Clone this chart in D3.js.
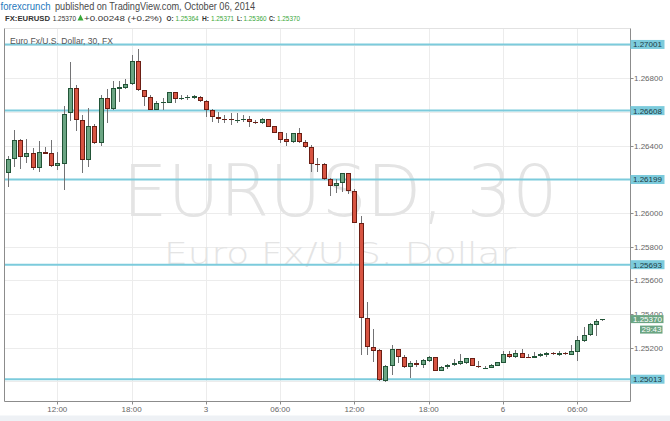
<!DOCTYPE html>
<html><head><meta charset="utf-8">
<script src="https://cdn.jsdelivr.net/npm/d3@7"></script>
<style>body{margin:0;background:#fff;} svg{display:block;font-family:"Liberation Sans",Arial,sans-serif;}</style>
</head><body>
<svg id="c" width="670" height="421"></svg>
<script>
// ---- data (EUR/USD, 30-minute candles) ----
const opens=[1.26236,1.26319,1.26432,1.26334,1.26355,1.26267,1.26362,1.26355,1.26281,1.26293,
1.26592,1.26744,1.26550,1.26313,1.26515,1.26414,1.26681,1.26615,1.26738,1.26744,
1.26764,1.26903,1.26729,1.26687,1.26612,1.26651,1.26655,1.26717,1.26677,1.26685,
1.26683,1.26691,1.26663,1.26612,1.26572,1.26556,1.26556,1.26552,1.26552,1.26556,
1.26540,1.26533,1.26558,1.26517,1.26479,1.26438,1.26422,1.26473,1.26420,1.26394,
1.26289,1.26289,1.26200,1.26160,1.26176,1.26236,1.26128,1.25942,1.25375,1.25207,
1.25185,1.25005,1.25093,1.25191,1.25143,1.25084,1.25111,1.25097,1.25123,1.25142,
1.25064,1.25084,1.25096,1.25106,1.25108,1.25137,1.25094,1.25081,1.25081,1.25093,
1.25109,1.25161,1.25143,1.25171,1.25143,1.25139,1.25149,1.25155,1.25171,1.25159,
1.25171,1.25159,1.25175,1.25242,1.25274,1.25337,1.25364];
const highs=[1.26339,1.26493,1.26438,1.26438,1.26384,1.26428,1.26394,1.26434,1.26364,1.26635,
1.26898,1.26760,1.26580,1.26622,1.26529,1.26701,1.26735,1.26784,1.26781,1.26796,
1.26938,1.26974,1.26730,1.26701,1.26667,1.26681,1.26720,1.26720,1.26701,1.26701,
1.26701,1.26695,1.26671,1.26616,1.26600,1.26580,1.26592,1.26592,1.26584,1.26576,
1.26552,1.26562,1.26560,1.26518,1.26483,1.26473,1.26477,1.26507,1.26434,1.26404,
1.26325,1.26295,1.26206,1.26202,1.26239,1.26239,1.26140,1.25984,1.25472,1.25311,
1.25191,1.25097,1.25216,1.25193,1.25157,1.25123,1.25127,1.25133,1.25153,1.25145,
1.25092,1.25103,1.25131,1.25161,1.25141,1.25139,1.25121,1.25093,1.25102,1.25117,
1.25181,1.25181,1.25187,1.25191,1.25163,1.25176,1.25167,1.25175,1.25175,1.25179,
1.25176,1.25216,1.25270,1.25325,1.25349,1.25369,1.25371];
const lows=[1.26156,1.26271,1.26260,1.26295,1.26255,1.26245,1.26350,1.26275,1.26255,1.26137,
1.26548,1.26489,1.26236,1.26275,1.26408,1.26398,1.26533,1.26612,1.26661,1.26735,
1.26760,1.26724,1.26637,1.26612,1.26612,1.26612,1.26651,1.26651,1.26671,1.26671,
1.26677,1.26661,1.26568,1.26542,1.26533,1.26536,1.26523,1.26533,1.26542,1.26512,
1.26529,1.26529,1.26511,1.26473,1.26414,1.26400,1.26417,1.26414,1.26384,1.26245,
1.26245,1.26196,1.26101,1.26121,1.26127,1.26111,1.25939,1.25157,1.25157,1.25117,
1.25004,1.24997,1.25038,1.25108,1.25082,1.25023,1.25084,1.25080,1.25117,1.25062,
1.25061,1.25074,1.25093,1.25097,1.25103,1.25092,1.25081,1.25078,1.25078,1.25092,
1.25107,1.25137,1.25137,1.25137,1.25137,1.25137,1.25143,1.25143,1.25157,1.25151,
1.25157,1.25157,1.25123,1.25236,1.25271,1.25271,1.25360];
const closes=[1.26321,1.26432,1.26334,1.26355,1.26267,1.26360,1.26352,1.26281,1.26295,1.26590,
1.26744,1.26550,1.26313,1.26515,1.26414,1.26681,1.26616,1.26741,1.26748,1.26766,
1.26903,1.26730,1.26687,1.26612,1.26653,1.26659,1.26717,1.26679,1.26681,1.26686,
1.26693,1.26663,1.26612,1.26572,1.26556,1.26555,1.26552,1.26552,1.26558,1.26539,
1.26533,1.26558,1.26512,1.26477,1.26434,1.26423,1.26473,1.26420,1.26394,1.26289,
1.26288,1.26200,1.26160,1.26176,1.26236,1.26131,1.25942,1.25375,1.25206,1.25182,
1.25008,1.25093,1.25191,1.25147,1.25084,1.25109,1.25097,1.25125,1.25143,1.25064,
1.25084,1.25097,1.25108,1.25119,1.25137,1.25093,1.25083,1.25082,1.25096,1.25114,
1.25161,1.25143,1.25171,1.25141,1.25142,1.25151,1.25161,1.25171,1.25161,1.25171,
1.25161,1.25179,1.25246,1.25277,1.25339,1.25359,1.25370];
const tickIdx=[8,20,32,44,56,68,80,92];
const tickLabels=["12:00","18:00","3","06:00","12:00","18:00","6","06:00"];
const yTicks=[1.250,1.252,1.254,1.256,1.258,1.260,1.262,1.264,1.266,1.268,1.270];
const levels=[1.27001,1.26608,1.26199,1.25693,1.25013];
const change="+0.00248 (+0.2%)";
const countdown="29:43";

// ---- layout ----
const svg=d3.select("#c");
const L=4.5,R=630.5,T=28.5,B=401.5;
const x=d3.scaleLinear().domain([-0.5,100.5]).range([4.7,630]);
const y=d3.scaleLinear().domain([1.248777,1.270986]).range([402,28]);
const fmt=d3.format(".5f");
const px=v=>Math.round(v)+0.5;
const n=closes.length;
const up="#6ba583", upB="#225437", dn="#d75442", dnB="#6b1e14", wick="#737375", cyan="#7ccbdc";

svg.append("rect").attr("width",670).attr("height",421).attr("fill","#fff");
svg.append("rect").attr("x",0).attr("y",415.5).attr("width",670).attr("height",6).attr("fill","#eef1f5");

// grid
svg.append("g").selectAll("line").data(yTicks).join("line")
 .attr("x1",L).attr("x2",R).attr("y1",d=>px(y(d))).attr("y2",d=>px(y(d)))
 .attr("stroke","#ececec");
svg.append("g").selectAll("line").data(tickIdx).join("line")
 .attr("x1",d=>px(x(d))).attr("x2",d=>px(x(d))).attr("y1",T).attr("y2",B)
 .attr("stroke","#ececec");

// watermark
svg.append("text").attr("x",340).attr("y",216).attr("text-anchor","middle")
 .attr("font-family","DejaVu Sans").attr("font-size",71).attr("font-weight",300)
 .attr("fill","#e4e4e4").attr("textLength",435).attr("lengthAdjust","spacingAndGlyphs").text("EURUSD, 30");
svg.append("text").attr("x",340).attr("y",264).attr("text-anchor","middle")
 .attr("font-family","DejaVu Sans").attr("font-size",30).attr("font-weight",300)
 .attr("fill","#e4e4e4").attr("textLength",352).attr("lengthAdjust","spacingAndGlyphs").text("Euro Fx/U.S. Dollar");

// level lines
svg.append("g").selectAll("line").data(levels).join("line")
 .attr("x1",L).attr("x2",R).attr("y1",d=>y(d)).attr("y2",d=>y(d))
 .attr("stroke",cyan).attr("stroke-width",2);

// candles
const idx=d3.range(n);
const cg=svg.append("g");
cg.selectAll("line").data(idx).join("line")
 .attr("x1",i=>px(x(i))).attr("x2",i=>px(x(i)))
 .attr("y1",i=>Math.round(y(highs[i]))).attr("y2",i=>Math.round(y(lows[i])))
 .attr("stroke",wick);
cg.selectAll("rect").data(idx).join("rect")
 .attr("x",i=>Math.round(x(i))-1.5).attr("width",4)
 .attr("y",i=>Math.round(y(Math.max(opens[i],closes[i])))+0.5)
 .attr("height",i=>Math.max(0.01,Math.round(y(Math.min(opens[i],closes[i])))-Math.round(y(Math.max(opens[i],closes[i])))-1))
 .attr("fill",i=>closes[i]>=opens[i]?up:dn)
 .attr("stroke",i=>closes[i]>=opens[i]?upB:dnB);

// frame
svg.append("line").attr("x1",L).attr("x2",R).attr("y1",T).attr("y2",T).attr("stroke","#e2e2e2");
svg.append("line").attr("x1",L).attr("x2",L).attr("y1",T).attr("y2",B).attr("stroke","#8c8c8c");
svg.append("line").attr("x1",L).attr("x2",R).attr("y1",B).attr("y2",B).attr("stroke","#8c8c8c");
svg.append("line").attr("x1",R).attr("x2",R).attr("y1",T).attr("y2",B).attr("stroke","#8c8c8c");

// x axis
const xa=svg.append("g");
xa.selectAll("line").data(tickIdx).join("line")
 .attr("x1",d=>px(x(d))).attr("x2",d=>px(x(d))).attr("y1",B).attr("y2",B+3).attr("stroke","#8c8c8c");
xa.selectAll("text").data(tickIdx).join("text")
 .attr("x",d=>x(d)).attr("y",412).attr("text-anchor","middle")
 .attr("font-size",8).attr("fill","#666").text((d,i)=>tickLabels[i]);

// y axis (labels hidden where a level label sits)
const last=closes[n-1];
const ya=svg.append("g");
const shown=yTicks.filter(t=>levels.every(l=>Math.abs(y(t)-y(l))>6));
ya.selectAll("line").data(shown).join("line")
 .attr("x1",R).attr("x2",R+3).attr("y1",d=>px(y(d))).attr("y2",d=>px(y(d))).attr("stroke","#8c8c8c");
// the label next to the last-price box is partly covered by it, as in the reference
const clipTop=y(last)-4;
svg.append("clipPath").attr("id","yclip").append("rect").attr("x",R).attr("y",0).attr("width",40).attr("height",clipTop);
ya.selectAll("text").data(shown).join("text")
 .attr("x",634).attr("y",d=>y(d)+3).attr("font-size",8).attr("fill","#666")
 .attr("clip-path",d=>Math.abs(y(d)-y(last))<8?"url(#yclip)":null)
 .text(d=>fmt(d));

// level labels
const lg=svg.append("g").selectAll("g").data(levels).join("g");
lg.append("rect").attr("x",R).attr("y",d=>y(d)-4.5).attr("width",34).attr("height",9).attr("fill",cyan);
lg.append("text").attr("x",633).attr("y",d=>y(d)+3).attr("font-size",8).attr("fill","#1d3b44").text(d=>fmt(d));

// last price label + countdown
svg.append("rect").attr("x",R).attr("y",y(last)-4).attr("width",33).attr("height",8).attr("fill",up);
svg.append("text").attr("x",633).attr("y",y(last)+3).attr("font-size",8).attr("fill","#fff").text(fmt(last));
svg.append("rect").attr("x",640).attr("y",y(last)+6.5).attr("width",22.5).attr("height",8).attr("fill",up);
svg.append("text").attr("x",651.5).attr("y",y(last)+13.3).attr("text-anchor","middle").attr("font-size",8).attr("fill","#fff").text(countdown);

// chart title inside pane
svg.append("text").attr("x",10).attr("y",43.5).attr("font-size",8.5).attr("fill","#555")
 .attr("textLength",103).attr("lengthAdjust","spacingAndGlyphs").text("Euro Fx/U.S. Dollar, 30, FX");

// header
const h=svg.append("g");
function t(xp,yp,w,str,opt){const e=h.append("text").attr("x",xp).attr("y",yp).attr("textLength",w)
 .attr("lengthAdjust","spacingAndGlyphs").attr("font-size",opt.s).attr("fill",opt.c).text(str);
 if(opt.b) e.attr("font-weight","bold"); return e;}
t(0.5,10,50,"forexcrunch",{s:10,c:"#2478bd"});
t(55,10,200,"published on TradingView.com, October 06, 2014",{s:10,c:"#4a4a4a"});
const g1="#3aa83a";
t(5,20.5,45,"FX:EURUSD",{s:7.5,c:"#333",b:1});
t(52.7,20.5,23.3,fmt(last),{s:7.5,c:"#333"});
h.append("path").attr("d","M77.5,20.5 L83.5,20.5 L80.5,14.5 Z").attr("fill",g1);
t(84,20.5,78,change,{s:7.5,c:"#333"});
const ohlc=[["O:",opens[n-1],166.5,7,175.5],["H:",highs[n-1],202,7,211],["L:",lows[n-1],237,5,243.5],["C:",closes[n-1],269,6,277]];
ohlc.forEach(([k,v,kx,kw,vx])=>{
 t(kx,20.5,kw,k,{s:7.5,c:"#333",b:1});
 t(vx,20.5,23,fmt(v),{s:7.5,c:g1});
});
</script>
</body></html>
